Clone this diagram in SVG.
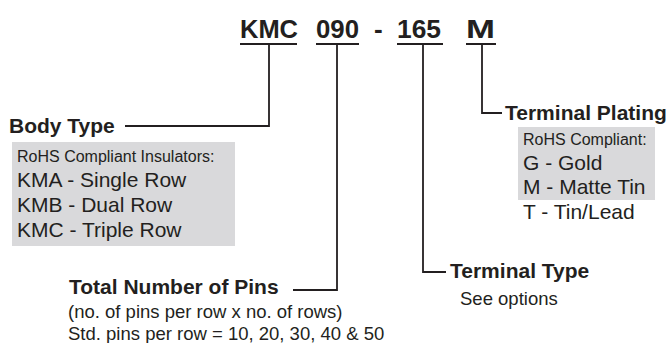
<svg xmlns="http://www.w3.org/2000/svg" width="670" height="343" viewBox="0 0 670 343">
<style>
.code{font-family:"Liberation Sans",Arial,sans-serif;font-weight:bold;font-size:26px;fill:#231f20}
.head{font-family:"Liberation Sans",Arial,sans-serif;font-weight:bold;font-size:21px;fill:#231f20}
.small{font-family:"Liberation Sans",Arial,sans-serif;font-size:16px;fill:#231f20}
.big{font-family:"Liberation Sans",Arial,sans-serif;font-size:21px;fill:#231f20}
.body{font-family:"Liberation Sans",Arial,sans-serif;font-size:18.5px;fill:#231f20}
.ln{fill:none;stroke:#231f20;stroke-width:1.8}
.box{fill:#d9d9db}
</style>
<g id="partcode">
<text class="code" x="240" y="38" textLength="58" lengthAdjust="spacingAndGlyphs">KMC</text>
<text class="code" x="316" y="38" textLength="43" lengthAdjust="spacingAndGlyphs">090</text>
<text class="code" x="374" y="38">-</text>
<text class="code" x="397" y="38" textLength="44" lengthAdjust="spacingAndGlyphs">165</text>
<text class="code" x="466" y="38" textLength="29" lengthAdjust="spacingAndGlyphs">M</text>
</g>
<g id="connectors">
<path class="ln" d="M240 44H297M316 44H359M397 44H443M466 44H496"/>
<path class="ln" d="M269 44V126H125"/>
<path class="ln" d="M337 44V290H293"/>
<path class="ln" d="M423 44V272H446"/>
<path class="ln" d="M482 44V113H502"/>
</g>
<g id="body-type">
<text class="head" x="9" y="133">Body Type</text>
<rect class="box" x="12" y="142" width="223" height="104"/>
<text class="small" x="17" y="162">RoHS Compliant Insulators:</text>
<text class="big" x="17" y="187">KMA - Single Row</text>
<text class="big" x="17" y="212">KMB - Dual Row</text>
<text class="big" x="17" y="237">KMC - Triple Row</text>
</g>
<g id="total-pins">
<text class="head" x="69" y="294">Total Number of Pins</text>
<text class="body" x="68" y="318">(no. of pins per row x no. of rows)</text>
<text class="body" x="68" y="340">Std. pins per row = 10, 20, 30, 40 &amp; 50</text>
</g>
<g id="terminal-type">
<text class="head" x="450" y="278">Terminal Type</text>
<text class="body" x="460" y="305">See options</text>
</g>
<g id="terminal-plating">
<text class="head" x="505" y="120">Terminal Plating</text>
<rect class="box" x="518" y="127" width="137" height="73"/>
<text class="small" x="523" y="145">RoHS Compliant:</text>
<text class="big" x="523" y="170">G - Gold</text>
<text class="big" x="523" y="194">M - Matte Tin</text>
<text class="big" x="523" y="219">T - Tin/Lead</text>
</g>
</svg>
